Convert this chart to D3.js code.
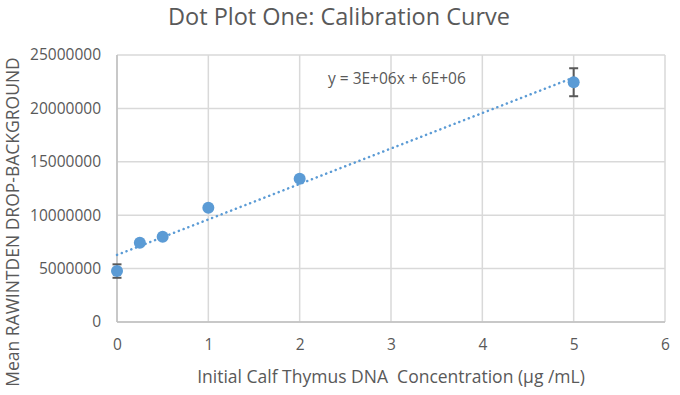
<!DOCTYPE html>
<html>
<head>
<meta charset="utf-8">
<script src="https://cdn.jsdelivr.net/npm/d3@7"></script>
<style>
  body { margin: 0; background: #fff; }
  text { font-family: "Open Sans", sans-serif; fill: #595959; }
</style>
</head>
<body>
<script>
// données
const concentrations = [0, 0.25, 0.5, 1, 2, 5];
const moyennes = [4770000, 7420000, 7990000, 10700000, 13420000, 22450000];
const erreurs = [630000, 150000, 150000, 150000, 200000, 1310000];
const xTicks = [0, 1, 2, 3, 4, 5, 6];
const yTicks = [0, 5000000, 10000000, 15000000, 20000000, 25000000];
const equation = "y = 3E+06x + 6E+06";

const W = 680, H = 395;
let margin = { top: 55, right: 15, bottom: 73, left: 117 };
let width = W - margin.left - margin.right,
    height = H - margin.top - margin.bottom;

let svg = d3.select("body").append("svg")
    .attr("width", W)
    .attr("height", H);

let g = svg.append("g")
    .attr("transform", "translate(" + margin.left + "," + margin.top + ")");

let x = d3.scaleLinear().domain([0, 6]).range([0, width]);
let y = d3.scaleLinear().domain([0, 25000000]).range([height, 0]);

// grille
g.append("g")
    .selectAll("line.v")
    .data(xTicks)
    .enter().append("line")
    .attr("x1", d => x(d)).attr("x2", d => x(d))
    .attr("y1", 0).attr("y2", height)
    .attr("stroke", "#d9d9d9").attr("stroke-width", 1.5);

g.append("g")
    .selectAll("line.h")
    .data(yTicks)
    .enter().append("line")
    .attr("x1", 0).attr("x2", width)
    .attr("y1", d => y(d)).attr("y2", d => y(d))
    .attr("stroke", "#d9d9d9").attr("stroke-width", 1.5);

// axes
g.append("line").attr("x1", 0).attr("x2", 0).attr("y1", 0).attr("y2", height)
    .attr("stroke", "#bfbfbf").attr("stroke-width", 1.5);
g.append("line").attr("x1", 0).attr("x2", width).attr("y1", height).attr("y2", height)
    .attr("stroke", "#bfbfbf").attr("stroke-width", 1.5);

let axeY = g.append("g").call(d3.axisLeft(y).tickValues(yTicks).tickSize(0).tickPadding(16).tickFormat(d3.format("d")));
axeY.select(".domain").remove();
axeY.selectAll("text").style("font-size", "15.5px").attr("fill", "#595959");

let axeX = g.append("g").attr("transform", "translate(0," + height + ")")
    .call(d3.axisBottom(x).tickValues(xTicks).tickSize(0).tickPadding(17).tickFormat(d3.format("d")));
axeX.select(".domain").remove();
axeX.selectAll("text").style("font-size", "15.5px").attr("fill", "#595959");

// droite de régression
const mx = d3.mean(concentrations), my = d3.mean(moyennes);
const pente = d3.sum(concentrations, (c, i) => (c - mx) * (moyennes[i] - my)) /
    d3.sum(concentrations, c => (c - mx) * (c - mx));
const origine = my - pente * mx;
const xMin = d3.min(concentrations), xMax = d3.max(concentrations);

g.append("line")
    .attr("x1", x(xMin)).attr("y1", y(origine + pente * xMin))
    .attr("x2", x(xMax)).attr("y2", y(origine + pente * xMax))
    .attr("stroke", "#5b9bd5").attr("stroke-width", 2.5)
    .attr("stroke-dasharray", "0.1 5").attr("stroke-linecap", "round");

// barres d'erreur
let eb = g.append("g").attr("stroke", "#595959").attr("stroke-width", 2);
concentrations.forEach((c, i) => {
    let x0 = x(c), y1 = y(moyennes[i] - erreurs[i]), y2 = y(moyennes[i] + erreurs[i]);
    eb.append("line").attr("x1", x0).attr("x2", x0).attr("y1", y1).attr("y2", y2);
    eb.append("line").attr("x1", x0 - 4.5).attr("x2", x0 + 4.5).attr("y1", y1).attr("y2", y1);
    eb.append("line").attr("x1", x0 - 4.5).attr("x2", x0 + 4.5).attr("y1", y2).attr("y2", y2);
});

// points
g.selectAll("circle")
    .data(concentrations)
    .enter().append("circle")
    .attr("cx", d => x(d))
    .attr("cy", (d, i) => y(moyennes[i]))
    .attr("r", 6)
    .attr("fill", "#5b9bd5");

// équation
g.append("text")
    .text(equation)
    .attr("x", x(2.31)).attr("y", y(22300000))
    .style("font-size", "15.5px");

// titres
svg.append("text")
    .text("Dot Plot One: Calibration Curve")
    .attr("x", 339).attr("y", 25)
    .attr("text-anchor", "middle")
    .style("font-size", "23.5px");

svg.append("text")
    .text("Initial Calf Thymus DNA  Concentration (µg /mL)")
    .attr("x", margin.left + width / 2).attr("y", 383)
    .attr("text-anchor", "middle")
    .attr("xml:space", "preserve")
    .style("white-space", "pre")
    .style("font-size", "17.5px");

svg.append("text")
    .text("Mean RAWINTDEN DROP-BACKGROUND")
    .attr("transform", "translate(19,222) rotate(-90)")
    .attr("text-anchor", "middle")
    .style("font-size", "17.5px");
</script>
</body>
</html>
